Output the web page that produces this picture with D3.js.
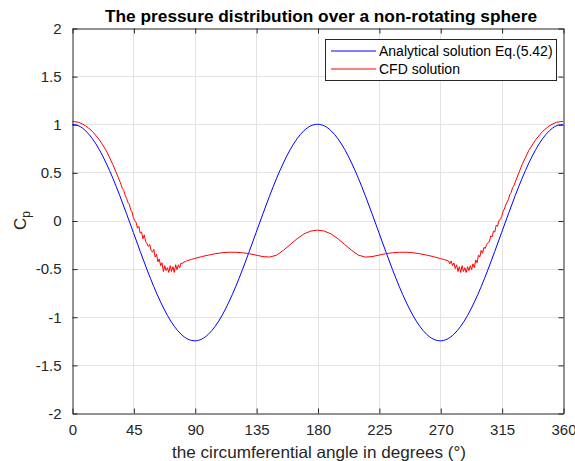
<!DOCTYPE html>
<html>
<head>
<meta charset="utf-8">
<script src="https://cdn.jsdelivr.net/npm/d3@7"></script>
<style>
  html, body { margin: 0; padding: 0; background: #fff; }
  svg { display: block; font-family: "Liberation Sans", Arial, Helvetica, sans-serif; }
</style>
</head>
<body>
<svg id="chart" width="575" height="461"></svg>
<script>
// ---- data ----
const title = "The pressure distribution over a non-rotating sphere";
const xLabel = "the circumferential angle in degrees (\u00B0)";
const xTicks = [0, 45, 90, 135, 180, 225, 270, 315, 360];
const yTicks = [-2, -1.5, -1, -0.5, 0, 0.5, 1, 1.5, 2];
const seriesNames = ["Analytical solution Eq.(5.42)", "CFD solution"];

const analyticAngles = [0,5,10,15,20,25,30,35,40,45,50,55,60,65,70,75,80,85,90,95,100,105,110,115,120,125,130,135,140,145,150,155,160,165,170,175,180,
  185,190,195,200,205,210,215,220,225,230,235,240,245,250,255,260,265,270,275,280,285,290,295,300,305,310,315,320,325,330,335,340,345,350,355,360];
const analyticCp = [1,0.983,0.932,0.849,0.737,0.598,0.438,0.260,0.070,-0.125,-0.320,-0.510,-0.688,-0.848,-0.987,-1.099,-1.182,-1.233,-1.25,
  -1.233,-1.182,-1.099,-0.987,-0.848,-0.688,-0.510,-0.320,-0.125,0.070,0.260,0.438,0.598,0.737,0.849,0.932,0.983,1,
  0.983,0.932,0.849,0.737,0.598,0.438,0.260,0.070,-0.125,-0.320,-0.510,-0.688,-0.848,-0.987,-1.099,-1.182,-1.233,-1.25,
  -1.233,-1.182,-1.099,-0.987,-0.848,-0.688,-0.510,-0.320,-0.125,0.070,0.260,0.438,0.598,0.737,0.849,0.932,0.983,1];

const cfdAngles = [0,5,10,15,20,25,30,35,
  36,37,38,39,40,41,42,43,44,45,46,47,48,49,50,51,52,53,54,55,56,57,58,59,60,61,62,63,64,65,66,67,68,69,70,
  71,72,73,74,75,76,77,78,79,80,81,82,83,84,85,87.5,
  90,95,100,105,110,115,120,125,130,135,140,145,150,155,160,165,170,175,180,
  185,190,195,200,205,210,215,220,225,230,235,240,245,250,255,260,265,270,272.5,
  275,276,277,278,279,280,281,282,283,284,285,286,287,288,289,290,291,292,293,294,295,296,297,298,299,300,
  301,302,303,304,305,306,307,308,309,310,311,312,313,314,315,316,317,318,319,320,321,322,323,324,
  325,330,335,340,345,350,355,360];
const cfdCp = [1.03,1.02,0.985,0.925,0.84,0.73,0.58,0.41,
  0.37,0.33,0.31,0.26,0.23,0.19,0.17,0.11,0.09,0.03,0.00,-0.02,-0.08,-0.06,-0.13,-0.12,-0.19,-0.15,-0.22,-0.24,-0.27,-0.25,-0.31,-0.33,-0.30,-0.38,-0.35,-0.43,-0.40,-0.47,-0.44,-0.53,-0.47,-0.52,-0.49,
  -0.54,-0.47,-0.53,-0.48,-0.54,-0.46,-0.51,-0.46,-0.49,-0.44,-0.45,-0.43,-0.43,-0.42,-0.415,-0.405,
  -0.395,-0.375,-0.36,-0.345,-0.335,-0.33,-0.33,-0.335,-0.345,-0.36,-0.375,-0.38,-0.36,-0.31,-0.25,-0.19,-0.14,-0.11,-0.10,
  -0.11,-0.14,-0.19,-0.25,-0.31,-0.36,-0.38,-0.375,-0.36,-0.345,-0.335,-0.33,-0.33,-0.335,-0.345,-0.36,-0.375,-0.395,-0.405,
  -0.415,-0.42,-0.45,-0.42,-0.47,-0.44,-0.50,-0.46,-0.53,-0.48,-0.54,-0.47,-0.53,-0.49,-0.54,-0.48,-0.52,-0.47,-0.51,-0.45,-0.49,-0.41,-0.44,-0.36,-0.38,-0.31,
  -0.34,-0.28,-0.29,-0.25,-0.23,-0.22,-0.16,-0.17,-0.11,-0.12,-0.05,-0.06,0.00,0.01,0.04,0.09,0.12,0.16,0.19,0.22,0.27,0.29,0.34,0.36,
  0.40,0.58,0.73,0.84,0.925,0.985,1.02,1.03];

// ---- layout ----
const W = 575, H = 461;
const m = { left: 72, right: 12, top: 28, bottom: 48 };
const svg = d3.select("#chart");
svg.append("rect").attr("width", W).attr("height", H).attr("fill", "#fff");

const x = d3.scaleLinear().domain([0, 360]).range([m.left, W - m.right]);
const y = d3.scaleLinear().domain([-2, 2]).range([H - m.bottom, m.top]);
const axisColor = "#262626";

// grid
const grid = svg.append("g");
grid.selectAll(".gx").data(xTicks.slice(1, -1)).join("line")
  .attr("x1", d => Math.round(x(d)) + 0.5).attr("x2", d => Math.round(x(d)) + 0.5)
  .attr("y1", m.top).attr("y2", H - m.bottom)
  .attr("stroke", "#e3e3e3").attr("stroke-width", 1);
grid.selectAll(".gy").data(yTicks.slice(1, -1)).join("line")
  .attr("y1", d => Math.round(y(d)) + 0.5).attr("y2", d => Math.round(y(d)) + 0.5)
  .attr("x1", m.left).attr("x2", W - m.right)
  .attr("stroke", "#e3e3e3").attr("stroke-width", 1);

// axes
const fmt = d => String(d);
const gBottom = svg.append("g").attr("transform", `translate(0.5,${H - m.bottom + 0.5})`)
  .call(d3.axisBottom(x).tickValues(xTicks).tickFormat(fmt).tickSizeInner(-5).tickSizeOuter(0).tickPadding(11));
const gTop = svg.append("g").attr("transform", `translate(0.5,${m.top + 0.5})`)
  .call(d3.axisTop(x).tickValues(xTicks).tickFormat("").tickSizeInner(-5).tickSizeOuter(0));
const gLeft = svg.append("g").attr("transform", `translate(${m.left + 0.5},0.5)`)
  .call(d3.axisLeft(y).tickValues(yTicks).tickFormat(fmt).tickSizeInner(-5).tickSizeOuter(0).tickPadding(11));
const gRight = svg.append("g").attr("transform", `translate(${W - m.right + 0.5},0.5)`)
  .call(d3.axisRight(y).tickValues(yTicks).tickFormat("").tickSizeInner(-5).tickSizeOuter(0));
[gBottom, gTop, gLeft, gRight].forEach(g => {
  g.selectAll("path").attr("stroke", axisColor);
  g.selectAll("line").attr("stroke", axisColor);
  g.selectAll("text").attr("fill", axisColor).style("font-size", "15px")
    .style("font-family", "'Liberation Sans', Arial, sans-serif");
});

// clip
svg.append("clipPath").attr("id", "clip").append("rect")
  .attr("x", m.left).attr("y", m.top).attr("width", W - m.left - m.right).attr("height", H - m.top - m.bottom);

const line = d3.line().x(d => x(d[0])).y(d => y(d[1])).curve(d3.curveCatmullRom.alpha(0.5));
const plot = svg.append("g").attr("clip-path", "url(#clip)");
plot.append("path").datum(analyticAngles.map((a, i) => [a, analyticCp[i]]))
  .attr("d", line).attr("fill", "none").attr("stroke", "#0000ff").attr("stroke-width", 1);
plot.append("path").datum(cfdAngles.map((a, i) => [a, cfdCp[i]]))
  .attr("d", d3.line().x(d => x(d[0])).y(d => y(d[1])).curve(d3.curveLinear))
  .attr("fill", "none").attr("stroke", "#ff0000").attr("stroke-width", 1);

// title
svg.append("text").attr("x", 321).attr("y", 22)
  .attr("text-anchor", "middle").style("font-size", "16.5px").style("font-weight", "bold")
  .attr("textLength", 432).attr("lengthAdjust", "spacingAndGlyphs")
  .attr("fill", "#000").text(title);

// x label
svg.append("text").attr("x", 319).attr("y", 458)
  .attr("text-anchor", "middle").style("font-size", "16.5px")
  .attr("textLength", 294).attr("lengthAdjust", "spacingAndGlyphs")
  .attr("fill", axisColor).text(xLabel);

// y label C_p
const yl = svg.append("text").attr("transform", `translate(26,${(m.top + H - m.bottom) / 2}) rotate(-90)`)
  .attr("text-anchor", "middle").style("font-size", "17px").attr("fill", axisColor);
yl.append("tspan").text("C");
yl.append("tspan").attr("dy", 4).style("font-size", "12px").text("p");

// legend
const lg = svg.append("g");
lg.append("rect").attr("x", 325.5).attr("y", 39.5).attr("width", 231).attr("height", 41)
  .attr("fill", "#fff").attr("stroke", axisColor).attr("stroke-width", 1);
const legendColors = ["#0000ff", "#ff0000"];
seriesNames.forEach((name, i) => {
  const yy = 51 + i * 18;
  lg.append("line").attr("x1", 331).attr("x2", 376).attr("y1", yy).attr("y2", yy)
    .style("stroke", legendColors[i]).style("stroke-width", 1.2);
  lg.append("text").attr("x", 379).attr("y", yy + 5).style("font-size", "14px")
    .attr("fill", "#000").text(name);
});
</script>
</body>
</html>
